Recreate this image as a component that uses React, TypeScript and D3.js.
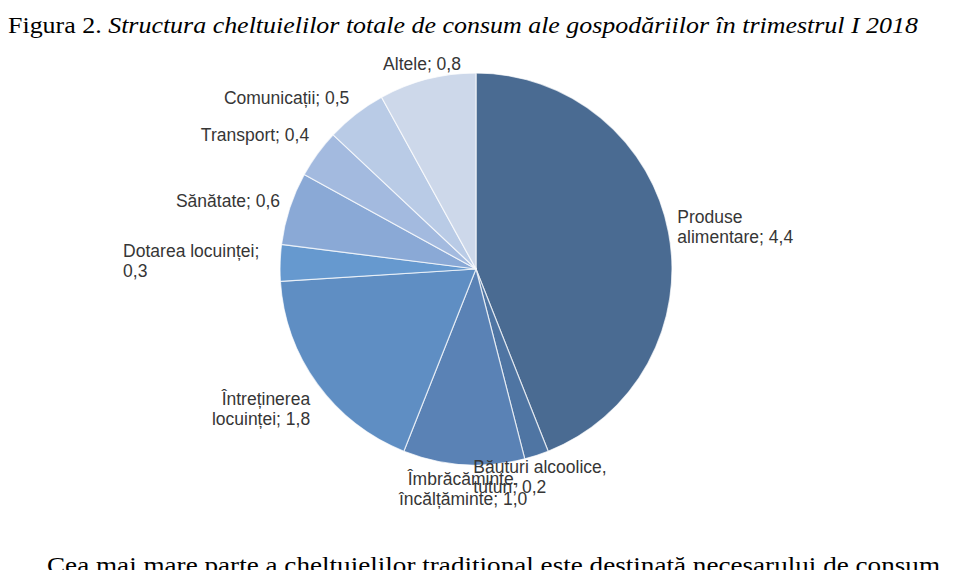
import React from "react";
import * as d3 from "d3";

const categories = [
  ["Produse", "alimentare; 4,4"],
  ["Băuturi alcoolice,", "tutun; 0,2"],
  ["Îmbrăcăminte,", "încălțăminte; 1,0"],
  ["Întreținerea", "locuinței; 1,8"],
  ["Dotarea locuinței;", "0,3"],
  ["Sănătate; 0,6"],
  ["Transport; 0,4"],
  ["Comunicații; 0,5"],
  ["Altele; 0,8"],
];
const values = [4.4, 0.2, 1.0, 1.8, 0.3, 0.6, 0.4, 0.5, 0.8];
const colors = [
  "#4a6b92",
  "#4f75a3",
  "#5a82b5",
  "#5f8ec3",
  "#6699cf",
  "#8aa9d6",
  "#a3badf",
  "#b9cbe6",
  "#cdd8ea",
];
// label layout: anchor, line x offset, vertical offset of first line baseline
const labelAnchor = ["start", "start", "middle", "end", "start", "end", "end", "end", "middle"];
const labelDx = [0, -66, 0, 0, -148, -1, -1, -1, -3];
const labelDy = [-4, 13, 15, 20, -2, -5, -14, -9, -6];

const W = 968;
const H = 570;
const cx = 476;
const cy = 269;
const R = 196;

export default function App() {
  const pie = d3.pie<number>().sort(null).value((d) => d).startAngle(0).endAngle(2 * Math.PI);
  const arcs = pie(values);
  const arc = d3.arc<d3.PieArcDatum<number>>().innerRadius(0).outerRadius(R);
  const lineH = 20;

  return (
    <svg
      width={W}
      height={H}
      style={{ position: "absolute", left: 0, top: 0, background: "#fff" }}
    >
      <text
        x={8}
        y={33}
        fontFamily="'Liberation Serif', 'Times New Roman', serif"
        fontSize={23}
        fill="#000"
        textLength={910}
        lengthAdjust="spacingAndGlyphs"
      >
        <tspan>Figura 2. </tspan>
        <tspan fontStyle="italic">
          Structura cheltuielilor totale de consum ale gospodăriilor în trimestrul I 2018
        </tspan>
      </text>

      <g transform={`translate(${cx},${cy})`}>
        {arcs.map((a, i) => (
          <path
            key={i}
            d={arc(a) || ""}
            fill={colors[i]}
            stroke="#ffffff"
            strokeOpacity={0.7}
            strokeWidth={1.2}
          />
        ))}
        {arcs.map((a, i) => {
          const mid = (a.startAngle + a.endAngle) / 2;
          const rr = R + 9;
          const x = Math.sin(mid) * rr + labelDx[i];
          const lines = categories[i];
          const y0 = -Math.cos(mid) * rr + labelDy[i] - ((lines.length - 1) * lineH) / 2 + 6;
          return (
            <text
              key={"l" + i}
              x={x}
              y={y0}
              textAnchor={labelAnchor[i]}
              fontFamily="'Liberation Sans', Arial, sans-serif"
              fontSize={17.5}
              fill="#363636"
            >
              {lines.map((ln, j) => (
                <tspan key={j} x={x} dy={j === 0 ? 0 : lineH}>
                  {ln}
                </tspan>
              ))}
            </text>
          );
        })}
      </g>

      <text
        x={47}
        y={573}
        fontFamily="'Liberation Serif', 'Times New Roman', serif"
        fontSize={23}
        fill="#000"
        textLength={893}
        lengthAdjust="spacingAndGlyphs"
      >
        Cea mai mare parte a cheltuielilor tradiţional este destinată necesarului de consum
      </text>
    </svg>
  );
}
